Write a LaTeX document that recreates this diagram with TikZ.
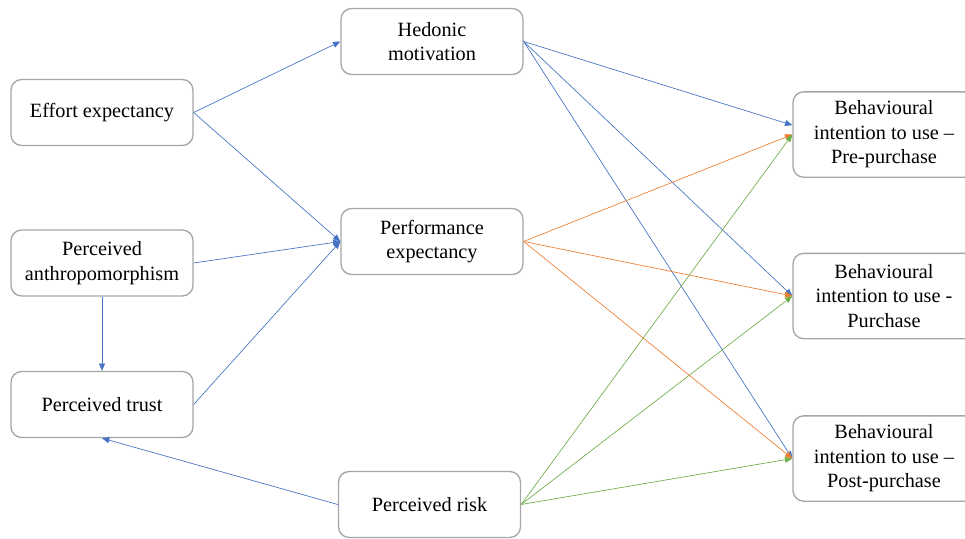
\documentclass[tikz,border=0pt]{standalone}
\usepackage{fontspec}
\setmainfont{Liberation Serif}
\usepackage{tikz}
\usetikzlibrary{arrows.meta}
\definecolor{boxgray}{HTML}{A6A6A6}
\definecolor{linkblue}{HTML}{4472C4}
\definecolor{linkorange}{HTML}{ED7D31}
\definecolor{linkgreen}{HTML}{70AD47}
\tikzset{
  construct/.style={draw=boxgray, line width=1pt, rounded corners=8pt, align=center,
    minimum width=136.5pt, minimum height=49.5pt, inner sep=2pt,
    font=\fontsize{15.2}{18.4}\selectfont},
  outcome/.style={construct, minimum height=64pt},
  hlink/.style={->, linkblue},
  plink/.style={->, linkorange},
  rlink/.style={->, linkgreen}
}
\begin{document}
\begin{tikzpicture}[x=0.75pt, y=-0.75pt, line width=0.5pt, >={Triangle[length=5.5pt,width=4.5pt]}]
  \useasboundingbox (0,0) rectangle (965,539);

  \node[construct] (hedonic) at (432,41.5) {Hedonic\\motivation};
  \node[construct] (effort) at (102,112.5) {Effort expectancy};
  \node[construct] (perform) at (432,241.5) {Performance\\expectancy};
  \node[construct] (anthro) at (102,263) {Perceived\\anthropomorphism};
  \node[construct] (trust) at (102,404.5) {Perceived trust};
  \node[construct] (risk) at (429.5,504.5) {Perceived risk};

  \node[outcome] (pre) at (884,134.5) {Behavioural\\intention to use --\\Pre-purchase};
  \node[outcome] (purch) at (884,296) {Behavioural\\intention to use -\\Purchase};
  \node[outcome] (post) at (884,458.5) {Behavioural\\intention to use --\\Post-purchase};

  \draw[hlink] (effort.east) -- (hedonic.west);
  \draw[hlink] (effort.east) -- (perform.west);
  \draw[hlink] (anthro.east) -- (perform.west);
  \draw[hlink] (trust.east) -- (perform.west);
  \draw[hlink] (anthro.south) -- (trust.north);
  \draw[hlink] (risk.west) -- (trust.south);

  \draw[hlink] (hedonic.east) -- ([yshift=7pt]pre.west);
  \foreach \t in {purch,post}
    \draw[hlink] (hedonic.east) -- (\t.west);
  \foreach \t in {pre,purch,post} {
    \draw[plink] (perform.east) -- (\t.west);
    \draw[rlink] (risk.east) -- (\t.west);
  }
\end{tikzpicture}
\end{document}
